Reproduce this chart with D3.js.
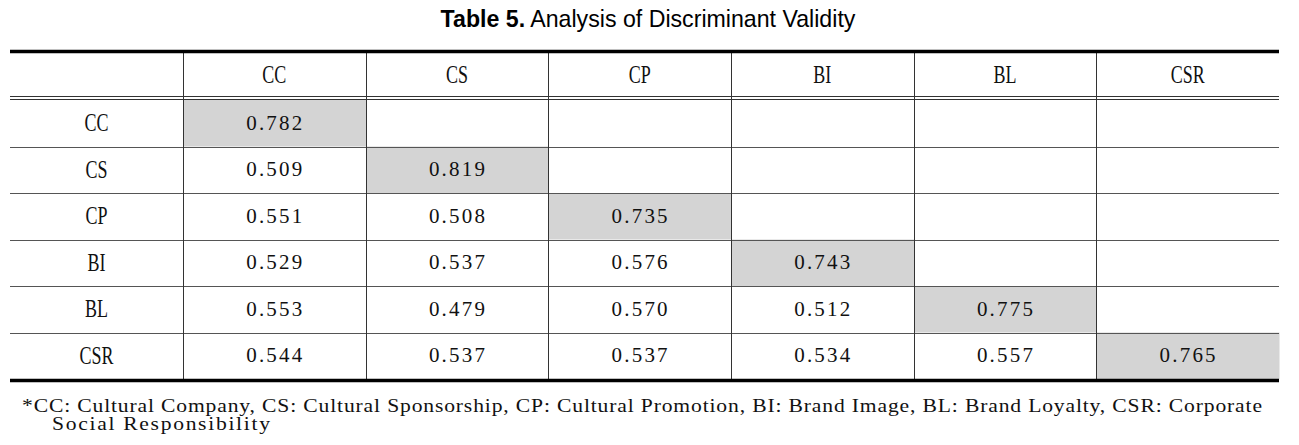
<!DOCTYPE html>
<html>
<head>
<meta charset="utf-8">
<script src="https://cdn.jsdelivr.net/npm/d3@7"></script>
<style>
  html, body { margin: 0; padding: 0; background: #fff; }
  svg { display: block; }
</style>
</head>
<body>
<svg id="chart" width="1299" height="445"></svg>
<script>
  // ---- Data ----
  const categories = ["CC", "CS", "CP", "BI", "BL", "CSR"];
  // lower-triangle correlation matrix, diagonal = sqrt(AVE)
  const rowCC  = ["0.782"];
  const rowCS  = ["0.509", "0.819"];
  const rowCP  = ["0.551", "0.508", "0.735"];
  const rowBI  = ["0.529", "0.537", "0.576", "0.743"];
  const rowBL  = ["0.553", "0.479", "0.570", "0.512", "0.775"];
  const rowCSR = ["0.544", "0.537", "0.537", "0.534", "0.557", "0.765"];
  const matrix = [rowCC, rowCS, rowCP, rowBI, rowBL, rowCSR];

  const titleBold = "Table 5.";
  const titleRest = " Analysis of Discriminant Validity";
  const footLine1 = "*CC: Cultural Company, CS: Cultural Sponsorship, CP: Cultural Promotion, BI: Brand Image, BL: Brand Loyalty, CSR: Corporate";
  const footLine2 = "Social Responsibility";

  // ---- Layout ----
  const left = 10, right = 1279;
  const firstColRight = 183;
  const topY = 51.5, headBottom = 100, bottomY = 380.5;
  const serif = "'Liberation Serif', 'DejaVu Serif', serif";

  const svg = d3.select("#chart");

  const x = d3.scaleBand().domain(categories).range([firstColRight, right]);
  const y = d3.scaleBand().domain(categories).range([headBottom, 379]);

  const cells = [];
  matrix.forEach((row, i) => {
    row.forEach((v, j) => cells.push({ r: categories[i], c: categories[j], v, diag: i === j }));
  });

  // grey diagonal cells
  svg.append("g").selectAll("rect")
    .data(cells.filter((d) => d.diag))
    .join("rect")
    .attr("x", (d) => x(d.c) + 0.5)
    .attr("y", (d) => y(d.r))
    .attr("width", x.bandwidth())
    .attr("height", y.bandwidth())
    .attr("fill", "#d4d4d4");

  // horizontal row lines
  const grid = svg.append("g").attr("stroke", "#555").attr("stroke-width", 1);
  grid.selectAll("line.h")
    .data(categories.slice(1))
    .join("line")
    .attr("class", "h")
    .attr("x1", left).attr("x2", right)
    .attr("y1", (d) => Math.round(y(d)) + 0.5)
    .attr("y2", (d) => Math.round(y(d)) + 0.5);

  // vertical column lines
  const colEdges = [firstColRight].concat(categories.slice(1).map((c) => x(c)));
  grid.selectAll("line.v")
    .data(colEdges)
    .join("line")
    .attr("class", "v")
    .attr("stroke", "#333")
    .attr("x1", (d) => Math.round(d) + 0.5).attr("x2", (d) => Math.round(d) + 0.5)
    .attr("y1", topY).attr("y2", bottomY);

  // double line under header
  [96.5, 99.5].forEach((yy) => {
    svg.append("line").attr("x1", left).attr("x2", right)
      .attr("y1", yy).attr("y2", yy)
      .attr("stroke", "#333").attr("stroke-width", 1);
  });

  // thick top and bottom rules
  [topY, bottomY].forEach((yy) => {
    svg.append("line").attr("x1", left).attr("x2", right)
      .attr("y1", yy).attr("y2", yy)
      .attr("stroke", "#000").attr("stroke-width", 3.5);
  });

  // condensed serif label helper
  function label(g, cx, cy, text) {
    g.append("text")
      .attr("transform", `translate(${cx},${cy}) scale(0.72,1)`)
      .attr("text-anchor", "middle")
      .attr("dy", "0.35em")
      .attr("font-family", serif)
      .attr("font-size", 25)
      .attr("fill", "#111")
      .text(text);
  }

  const labels = svg.append("g");
  categories.forEach((c) => label(labels, x(c) + x.bandwidth() / 2, 74, c));
  categories.forEach((c) => label(labels, (left + firstColRight) / 2, y(c) + y.bandwidth() / 2 - 1, c));

  // values
  svg.append("g").selectAll("text")
    .data(cells)
    .join("text")
    .attr("x", (d) => x(d.c) + x.bandwidth() / 2 + 1)
    .attr("y", (d) => y(d.r) + y.bandwidth() / 2 - 1)
    .attr("dy", "0.35em")
    .attr("text-anchor", "middle")
    .attr("font-family", serif)
    .attr("font-size", 21)
    .attr("letter-spacing", 2.2)
    .attr("fill", "#111")
    .text((d) => d.v);

  // title
  const title = svg.append("text")
    .attr("transform", "translate(648,27) scale(0.965,1)")
    .attr("text-anchor", "middle")
    .attr("font-family", "'Liberation Sans', Arial, sans-serif")
    .attr("font-size", 24)
    .attr("fill", "#000");
  title.append("tspan").attr("font-weight", "bold").text(titleBold);
  title.append("tspan").text(titleRest);

  // footnote (wide serif: stretch glyphs, then pad spacing to width)
  const fs = 1.2;
  svg.append("text")
    .attr("transform", `translate(22,412) scale(${fs},1)`)
    .attr("font-family", serif).attr("font-size", 18)
    .attr("fill", "#111")
    .attr("textLength", 1240 / fs).attr("lengthAdjust", "spacing")
    .text(footLine1);
  svg.append("text")
    .attr("transform", `translate(52,430) scale(${fs},1)`)
    .attr("font-family", serif).attr("font-size", 18)
    .attr("fill", "#111")
    .attr("textLength", 218 / fs).attr("lengthAdjust", "spacing")
    .text(footLine2);
</script>
</body>
</html>
